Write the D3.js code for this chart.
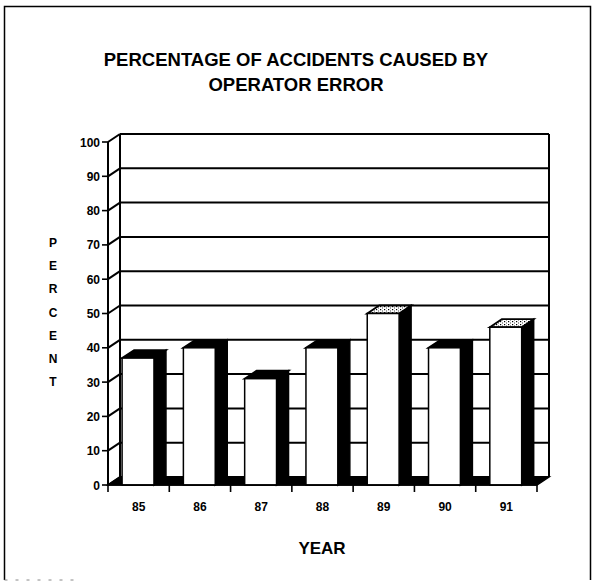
<!DOCTYPE html>
<html>
<head>
<meta charset="utf-8">
<script src="https://cdn.jsdelivr.net/npm/d3@7"></script>
<style>
  html, body { margin: 0; padding: 0; background: #fff; }
  svg { display: block; font-family: "Liberation Sans", Arial, Helvetica, sans-serif; }
</style>
</head>
<body>
<svg id="chart" width="595" height="583"></svg>
<script>
// Data
const years = ["85", "86", "87", "88", "89", "90", "91"];
const percents = [37, 40, 31, 40, 50, 40, 46];
const shadedTops = ["89", "91"];
const yTicks = [0, 10, 20, 30, 40, 50, 60, 70, 80, 90, 100];
const titleLines = ["PERCENTAGE OF ACCIDENTS CAUSED BY", "OPERATOR ERROR"];
const yAxisLetters = ["P", "E", "R", "C", "E", "N", "T"];
const xAxisTitle = "YEAR";

const svg = d3.select("#chart");

// 3D depth offset of the back wall relative to the front plane
const DX = 12, DY = -8;

const x = d3.scaleBand().domain(years).range([108, 537]).padding(0);
const y = d3.scaleLinear().domain([0, 100]).range([485, 142]);

// pattern for the speckled bar tops
const defs = svg.append("defs");
const pat = defs.append("pattern")
  .attr("id", "speckle").attr("patternUnits", "userSpaceOnUse")
  .attr("width", 4).attr("height", 3);
pat.append("rect").attr("width", 4).attr("height", 3).attr("fill", "#fff");
pat.append("rect").attr("x", 0).attr("y", 0).attr("width", 1.2).attr("height", 1.2).attr("fill", "#000");
pat.append("rect").attr("x", 2).attr("y", 1.5).attr("width", 1).attr("height", 1).attr("fill", "#444");

// outer frame
svg.append("path")
  .attr("d", `M4.5,580 L4.5,6.5 L590.5,6.5 L590.5,580`)
  .attr("fill", "none").attr("stroke", "#000").attr("stroke-width", 1.5);
svg.append("line")
  .attr("x1", 4.5).attr("x2", 80).attr("y1", 580).attr("y2", 580)
  .attr("stroke", "#888").attr("stroke-width", 1).attr("stroke-dasharray", "3,8");

// title
svg.append("g").selectAll("text").data(titleLines).join("text")
  .attr("x", 296).attr("y", (d, i) => 66 + i * 25)
  .attr("text-anchor", "middle")
  .attr("font-size", 18.5).attr("font-weight", "bold")
  .text(d => d);

const x0 = x.range()[0], x1 = x.range()[1];
const y0 = y(0), yTop = y(100);

// back wall gridlines
const grid = svg.append("g");
grid.selectAll("line.back").data(yTicks).join("line")
  .attr("class", "back")
  .attr("x1", x0 + DX).attr("x2", x1 + DX)
  .attr("y1", d => y(d) + DY).attr("y2", d => y(d) + DY)
  .attr("stroke", "#000").attr("stroke-width", 2);
// side wall gridlines (diagonals from front axis to back wall)
grid.selectAll("line.side").data(yTicks).join("line")
  .attr("class", "side")
  .attr("x1", x0).attr("x2", x0 + DX)
  .attr("y1", d => y(d)).attr("y2", d => y(d) + DY)
  .attr("stroke", "#000").attr("stroke-width", 2);
// wall edges
grid.append("line").attr("x1", x0 + DX).attr("x2", x0 + DX)
  .attr("y1", yTop + DY).attr("y2", y0 + DY)
  .attr("stroke", "#000").attr("stroke-width", 2);
grid.append("line").attr("x1", x1 + DX).attr("x2", x1 + DX)
  .attr("y1", yTop + DY).attr("y2", y0 + DY)
  .attr("stroke", "#000").attr("stroke-width", 2);

// floor
svg.append("path")
  .attr("d", `M${x0},${y0} L${x1},${y0} L${x1 + DX},${y0 + DY} L${x0 + DX},${y0 + DY} Z`)
  .attr("fill", "#000").attr("stroke", "#000").attr("stroke-width", 1.5);

// front value axis
const yAxisG = svg.append("g");
yAxisG.append("line").attr("x1", x0).attr("x2", x0)
  .attr("y1", yTop).attr("y2", y0)
  .attr("stroke", "#000").attr("stroke-width", 2);
yAxisG.selectAll("line.tick").data(yTicks).join("line")
  .attr("class", "tick")
  .attr("x1", x0 - 6).attr("x2", x0)
  .attr("y1", d => y(d)).attr("y2", d => y(d))
  .attr("stroke", "#000").attr("stroke-width", 1.6);
yAxisG.selectAll("text").data(yTicks).join("text")
  .attr("x", x0 - 8).attr("y", d => y(d) + 4.5)
  .attr("text-anchor", "end")
  .attr("font-size", 12).attr("font-weight", "bold")
  .text(d => d);

// bars
const faceInset = x.bandwidth() * 0.23;
const faceW = x.bandwidth() * 0.52;
const bars = svg.append("g").selectAll("g").data(years).join("g");
bars.each(function (yr, i) {
  const g = d3.select(this);
  const v = percents[i];
  const xl = x(yr) + faceInset, xr = xl + faceW, yt = y(v);
  // side face
  g.append("path")
    .attr("d", `M${xr},${yt} L${xr + DX},${yt + DY} L${xr + DX},${y0 + DY} L${xr},${y0} Z`)
    .attr("fill", "#000").attr("stroke", "#000").attr("stroke-width", 1.5);
  // top face
  g.append("path")
    .attr("d", `M${xl},${yt} L${xl + DX},${yt + DY} L${xr + DX},${yt + DY} L${xr},${yt} Z`)
    .attr("fill", shadedTops.includes(yr) ? "url(#speckle)" : "#000")
    .attr("stroke", "#000").attr("stroke-width", 1.8);
  // front face
  g.append("rect")
    .attr("x", xl).attr("y", yt).attr("width", faceW).attr("height", y0 - yt)
    .attr("fill", "#fff").attr("stroke", "#000").attr("stroke-width", 1.5);
});

// category axis
const xAxisG = svg.append("g");
xAxisG.append("line").attr("x1", x0).attr("x2", x1).attr("y1", y0).attr("y2", y0)
  .attr("stroke", "#000").attr("stroke-width", 1.6);
const boundaries = years.map(d => x(d)).concat([x1]);
xAxisG.selectAll("line.tick").data(boundaries).join("line")
  .attr("class", "tick")
  .attr("x1", d => d).attr("x2", d => d)
  .attr("y1", y0).attr("y2", y0 + 7)
  .attr("stroke", "#000").attr("stroke-width", 1.6);
xAxisG.selectAll("text").data(years).join("text")
  .attr("x", d => x(d) + x.bandwidth() / 2).attr("y", y0 + 26)
  .attr("text-anchor", "middle")
  .attr("font-size", 12).attr("font-weight", "bold")
  .text(d => d);

// axis titles
svg.append("text")
  .attr("x", 322).attr("y", 554)
  .attr("text-anchor", "middle")
  .attr("font-size", 17).attr("font-weight", "bold")
  .text(xAxisTitle);
svg.append("g").selectAll("text").data(yAxisLetters).join("text")
  .attr("x", 53).attr("y", (d, i) => 247 + i * 23.2)
  .attr("text-anchor", "middle")
  .attr("font-size", 12).attr("font-weight", "bold")
  .text(d => d);
</script>
</body>
</html>
